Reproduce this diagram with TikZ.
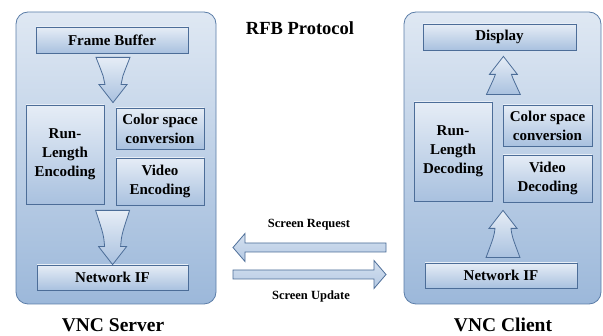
\documentclass[tikz,border=0pt]{standalone}
\usepackage{fontspec}
\setmainfont{Liberation Serif}
\usetikzlibrary{calc}
\definecolor{paneltop}{HTML}{DFE8F3}
\definecolor{panelbot}{HTML}{9CB8DA}
\definecolor{panelline}{HTML}{5B7DA8}
\definecolor{boxtop}{HTML}{E6EDF6}
\definecolor{boxbot}{HTML}{A9C1DF}
\definecolor{boxline}{HTML}{4C6D98}
\tikzset{
    x=1pt, y=-1pt,
    panel/.style={
        draw=panelline, line width=0.8pt, rounded corners=12pt,
        top color=paneltop, bottom color=panelbot,
    },
    block/.style={
        draw=boxline, line width=0.8pt, inner sep=0pt,
        top color=boxtop, bottom color=boxbot,
        align=center, font=\fontsize{15}{19}\selectfont\bfseries,
    },
    blockarrow/.style={
        draw=boxline, line width=0.8pt,
        top color=boxtop, bottom color=boxbot,
    },
    flatarrow/.style={
        draw=boxline, line width=0.8pt,
        top color=boxtop!70!boxbot, bottom color=boxbot!80!boxtop,
    },
    caption/.style={font=\fontsize{12.5}{14}\selectfont\bfseries},
    sidename/.style={font=\fontsize{19.5}{21}\selectfont\bfseries, anchor=base, inner sep=1pt},
}
% fat arrow with curved waist, from point #1 to tip #2 (vertical only)
\newcommand\bigarrow[2]{%
    \path[blockarrow] let \p1=(#1), \p2=(#2),
        \n1={(\y2-\y1)/abs(\y2-\y1)} in
        (\x1-17pt,\y1) -- (\x1+17pt,\y1)
        .. controls (\x1+9pt,{\y1+0.45*(\y2-\y1)}) .. (\x1+8pt,{\y2-\n1*18pt})
        -- (\x1+14pt,{\y2-\n1*18pt}) -- (\x1,\y2) -- (\x1-14pt,{\y2-\n1*18pt})
        -- (\x1-8pt,{\y2-\n1*18pt})
        .. controls (\x1-9pt,{\y1+0.45*(\y2-\y1)}) .. (\x1-17pt,\y1) -- cycle;}
% flat arrow between the two sides (horizontal only)
\newcommand\flatarrow[2]{%
    \path[flatarrow] let \p1=(#1), \p2=(#2),
        \n1={(\x2-\x1)/abs(\x2-\x1)} in
        (\x1,\y1-4.5pt) -- ({\x2-\n1*12pt},\y1-4.5pt)
        -- ({\x2-\n1*12pt},\y1-14pt) -- (\x2,\y1) -- ({\x2-\n1*12pt},\y1+14pt)
        -- ({\x2-\n1*12pt},\y1+4.5pt) -- (\x1,\y1+4.5pt) -- cycle;}

\begin{document}
\begin{tikzpicture}
    \useasboundingbox[fill=white] (0,0) rectangle (603,336);

    % server side
    \node[panel, minimum width=200pt, minimum height=292pt] (server) at (116,158) {};
    \node[block, minimum width=152pt, minimum height=26pt] (fb) at (112,40) {Frame Buffer};
    \node[block, minimum width=78pt, minimum height=99pt] (rle) at (65,154.5) {Run-\\Length\\Encoding};
    \node[block, minimum width=88pt, minimum height=41pt] (csc) at (160,128.5) {Color space\\conversion};
    \node[block, minimum width=88pt, minimum height=47pt] (venc) at (160,181.5) {Video\\Encoding};
    \node[block, minimum width=151pt, minimum height=25pt] (nets) at (112.5,277.5) {Network IF};
    \node[sidename] (srvname) at (113,332) {VNC Server};

    % client side
    \node[panel, minimum width=197pt, minimum height=292pt] (client) at (502.5,158) {};
    \node[block, minimum width=153pt, minimum height=26pt] (disp) at (499.5,37) {Display};
    \node[block, minimum width=78pt, minimum height=99pt] (rld) at (453,151.5) {Run-\\Length\\Decoding};
    \node[block, minimum width=89pt, minimum height=41pt] (cscc) at (547.5,125.5) {Color space\\conversion};
    \node[block, minimum width=89pt, minimum height=47pt] (vdec) at (547.5,178.5) {Video\\Decoding};
    \node[block, minimum width=152pt, minimum height=25pt] (netc) at (501,275.5) {Network IF};
    \node[sidename] (cltname) at (503,332) {VNC Client};

    \node[font=\fontsize{18.5}{20}\selectfont\bfseries] (rfb) at (300,28) {RFB Protocol};

    % fat arrows inside the two sides
    \coordinate (s1) at ($(fb.south)+(1,4)$);
    \coordinate (t1) at ($(rle.north east)+(9,-2)$);
    \coordinate (s2) at ($(venc.south west)+(-3,5)$);
    \coordinate (t2) at (nets.north);
    \bigarrow{s1}{t1 -| s1}
    \bigarrow{s2}{t2 -| s2}
    \coordinate (s3) at ($(rld.north east)+(11,-7)$);
    \coordinate (t3) at ($(disp.south)+(3,6)$);
    \coordinate (s4) at ($(netc.north)+(2,-5)$);
    \coordinate (t4) at ($(vdec.south west)+(0,8)$);
    \bigarrow{s3}{t3 -| s3}
    \bigarrow{s4}{t4 -| s3}

    % protocol messages
    \coordinate (rq1) at (386,247.5);
    \coordinate (rq2) at (233,247.5);
    \coordinate (up1) at (233,274.5);
    \coordinate (up2) at (386,274.5);
    \flatarrow{rq1}{rq2}
    \flatarrow{up1}{up2}
    \node[caption] (reqtxt) at (309,225) {Screen Request};
    \node[caption] (updtxt) at (311,296) {Screen Update};
\end{tikzpicture}
\end{document}
